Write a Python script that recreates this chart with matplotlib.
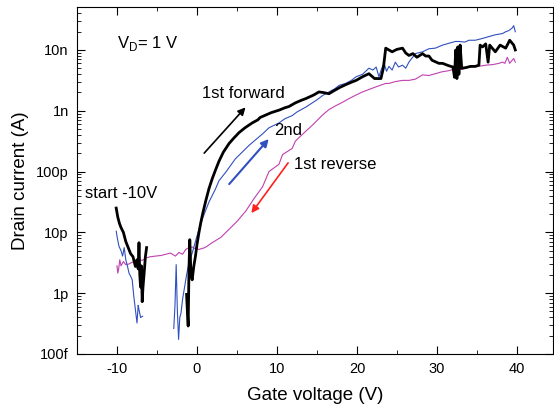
import matplotlib
matplotlib.use("Agg")
import matplotlib.pyplot as plt
import numpy as np
from matplotlib.ticker import FixedLocator, LogLocator, MultipleLocator, NullFormatter

plt.rcParams['font.family'] = ['Liberation Sans', 'DejaVu Sans']
plt.rcParams['mathtext.fontset'] = 'custom'
plt.rcParams['mathtext.rm'] = 'Liberation Sans'
plt.rcParams['axes.unicode_minus'] = False

# 1st forward sweep (gate V, log10 drain current); nan = gap below noise floor
fwd_v = [-10.1, -9.9, -9.7, -9.5, -9.2, -8.9, -8.6, -8.3, -8.0, -7.7, -7.5, -7.35, -7.25,
         -7.15, -7.05, -6.95, -6.85, -6.75, -6.6, -6.45, -6.3, np.nan,
         -1.3, -1.2, -1.1, -1.0, -0.9, -0.75, -0.6, -0.4, -0.2, 0.0, 0.25, 0.46, 0.7, 1.1,
         1.5, 1.9, 2.3, 2.75, 3.3, 4.0, 4.6, 5.25, 6.0, 6.9, 7.6, 7.9, 8.6, 9.3, 10.25,
         11.0, 11.5, 12.3, 13.0, 13.6, 14.6, 15.25, 15.8, 16.5, 17.0, 17.8, 18.6, 19.5,
         19.9, 20.7, 21.5, 22.2, 23.0, 23.3, 23.6, 24.0, 24.4, 25.0, 25.7, 26.1, 26.5,
         27.0, 27.5, 28.2, 28.6, 29.0, 29.4, 30.25, 30.7, 31.5, 32.0, 32.2, 32.35, 32.5,
         32.6, 32.75, 32.9, 33.1, 33.6, 34.2, 34.8, 35.25, 35.4, 35.7, 36.1, 36.4, 36.6,
         37.3, 37.9, 38.6, 39.1, 39.6, 39.8]
fwd_logi = [-10.6, -10.75, -10.85, -10.92, -11.0, -11.15, -11.25, -11.35, -11.4, -11.56,
            -11.45, -11.6, -11.17, -11.7, -11.9, -11.55, -12.14, -11.9, -11.66, -11.4,
            -11.25, np.nan,
            -12.02, -12.3, -12.54, -11.6, -11.12, -11.7, -11.78, -11.56, -11.4, -11.2,
            -11.0, -10.85, -10.7, -10.48, -10.28, -10.12, -9.98, -9.83, -9.68, -9.54,
            -9.45, -9.36, -9.28, -9.2, -9.15, -9.11, -9.07, -9.03, -8.99, -8.95, -8.93,
            -8.87, -8.83, -8.8, -8.74, -8.69, -8.7, -8.72, -8.68, -8.62, -8.57, -8.52,
            -8.5, -8.44, -8.39, -8.47, -8.47, -8.3, -7.97, -8.0, -8.03, -7.99, -7.97,
            -8.05, -8.09, -8.06, -8.12, -8.06, -8.1, -8.1, -8.17, -8.22, -8.22, -8.26,
            -8.28, -8.45, -8.0, -8.47, -7.95, -8.4, -7.92, -8.3, -8.29, -8.27, -8.27,
            -8.25, -7.92, -7.95, -7.9, -8.2, -7.92, -8.03, -7.92, -7.97, -7.84, -7.92, -8.0]

# 2nd sweep
snd_v = [-10.1, -9.95, -9.75, -9.5, -9.3, -9.1, -8.9, -8.7, -8.5, -8.3, -8.1, -7.9, -7.7,
         -7.5, -7.35, -7.25, -7.05, -6.8, np.nan,
         -2.9, -2.75, -2.6, -2.45, -2.3, -2.15, -2.0, -1.8, -1.6, -1.3, -1.0, -0.6, 0.0,
         0.67, 1.5, 2.3, 2.75, 3.6, 4.8, 5.5, 6.5, 7.3, 8.2, 9.0, 10.25, 11.0, 11.9,
         12.5, 13.6, 14.3, 15.0, 15.7, 16.5, 17.2, 17.8, 18.6, 19.3, 19.9, 20.7, 21.5,
         22.0, 22.4, 22.75, 23.1, 23.4, 23.7, 24.0, 24.4, 24.8, 25.2, 25.7, 26.1, 26.5,
         27.3, 28.2, 29.0, 29.8, 30.7, 31.5, 32.3, 32.75, 33.5, 34.0, 34.8, 35.7, 36.5,
         37.3, 38.2, 38.6, 39.0, 39.4, 39.6, 39.8]
snd_logi = [-10.98, -11.1, -11.23, -11.3, -11.39, -11.25, -11.45, -11.55, -11.67, -11.72,
            -11.78, -12.05, -12.27, -12.49, -12.2, -12.27, -12.4, -12.38, np.nan,
            -12.58, -12.2, -11.53, -12.3, -12.76, -12.4, -12.33, -12.1, -11.94, -11.7,
            -11.5, -11.34, -11.06, -10.78, -10.5, -10.29, -10.15, -10.01, -9.79, -9.7,
            -9.57, -9.48, -9.38, -9.28, -9.2, -9.13, -9.08, -9.02, -8.94, -8.88, -8.82,
            -8.75, -8.69, -8.64, -8.58, -8.55, -8.5, -8.44, -8.4, -8.3, -8.33, -8.28,
            -8.44, -8.3, -8.22, -8.35, -8.27, -8.33, -8.2, -8.28, -8.25, -8.3, -8.2,
            -8.06, -8.03, -7.98, -7.97, -7.92, -7.89, -7.86, -7.86, -7.87, -7.84, -7.84,
            -7.81, -7.78, -7.75, -7.73, -7.7, -7.68, -7.64, -7.6, -7.7]

# 1st reverse sweep (40 V back to -10 V)
rev_v = [39.8, 39.6, 39.4, 39.1, 38.8, 38.5, 38.2, 37.75, 37.0, 36.1, 35.2, 34.0, 33.1,
         32.3, 31.5, 30.6, 29.8, 29.0, 28.2, 27.3, 26.5, 25.7, 24.8, 24.0, 23.6, 22.3,
         21.5, 20.7, 19.9, 19.0, 18.2, 17.3, 16.5, 15.7, 14.4, 13.0, 12.3, 11.9, 10.7,
         10.25, 9.0, 8.2, 7.1, 6.1, 5.0, 4.0, 3.0, 1.9, 1.0, 0.25, -0.2, -0.6, -1.0,
         -1.4, -1.8, -2.25, -2.7, -3.3, -3.9, -4.5, -5.2, -5.8, -6.4, -6.8, -7.25, -7.7,
         -8.1, -8.5, -8.9, -9.2, -9.5, -9.65, -9.8, -9.9, -10.0]
rev_logi = [-8.2, -8.14, -8.17, -8.22, -8.12, -8.22, -8.2, -8.22, -8.24, -8.25, -8.27,
            -8.28, -8.32, -8.31, -8.34, -8.36, -8.39, -8.42, -8.41, -8.48, -8.5, -8.5,
            -8.52, -8.55, -8.55, -8.61, -8.65, -8.69, -8.74, -8.8, -8.86, -8.92, -8.98,
            -9.07, -9.24, -9.41, -9.5, -9.62, -9.72, -9.88, -10.0, -10.25, -10.45,
            -10.65, -10.82, -10.95, -11.08, -11.17, -11.25, -11.28, -11.27, -11.24,
            -11.25, -11.28, -11.36, -11.33, -11.39, -11.34, -11.36, -11.38, -11.39,
            -11.4, -11.42, -11.46, -11.45, -11.48, -11.49, -11.52, -11.53, -11.48,
            -11.55, -11.45, -11.61, -11.67, -11.55]

fig = plt.figure(figsize=(5.54, 4.09), dpi=100)
ax = fig.add_axes([0.139, 0.1345, 0.859, 0.8485])

ax.plot(rev_v, 10 ** np.array(rev_logi), color='#c040b0', lw=0.8)
ax.plot(snd_v, 10 ** np.array(snd_logi), color='#3050c0', lw=0.8)
ax.plot(fwd_v, 10 ** np.array(fwd_logi), color='black', lw=2.0)

ax.set_yscale('log')
ax.set_xlim(-15, 44.5)
ax.set_ylim(1e-13, 5.1e-8)

ax.xaxis.set_major_locator(FixedLocator([-10, 0, 10, 20, 30, 40]))
ax.xaxis.set_minor_locator(MultipleLocator(5))
ax.yaxis.set_major_locator(FixedLocator([1e-13, 1e-12, 1e-11, 1e-10, 1e-9, 1e-8]))
ax.set_yticklabels(['100f', '1p', '10p', '100p', '1n', '10n'])
ax.yaxis.set_minor_locator(LogLocator(base=10, subs=np.arange(2, 10)))
ax.yaxis.set_minor_formatter(NullFormatter())
ax.tick_params(which='both', direction='in', top=True, right=True, labelsize=10.5)
ax.tick_params(which='major', length=6)
ax.tick_params(which='minor', length=3)
ax.tick_params(axis='x', pad=6)
ax.tick_params(axis='y', pad=6)

ax.set_xlabel('Gate voltage (V)', fontsize=13.5, labelpad=8)
ax.set_ylabel('Drain current (A)', fontsize=13.5, labelpad=5)

# sweep direction arrows
ax.annotate('', xy=(6.3, 10 ** -8.91), xytext=(0.67, 10 ** -9.73),
            arrowprops=dict(arrowstyle='-|>', color='black', lw=1.2, mutation_scale=11))
ax.annotate('', xy=(9.2, 10 ** -9.43), xytext=(3.8, 10 ** -10.24),
            arrowprops=dict(arrowstyle='-|>', color='#3050c0', lw=1.5, mutation_scale=11))
ax.annotate('', xy=(6.6, 10 ** -10.72), xytext=(11.6, 10 ** -9.82),
            arrowprops=dict(arrowstyle='-|>', color='#ff2020', lw=1.2, mutation_scale=11))

ax.text(0.6, 10 ** -8.72, '1st forward', fontsize=12, va='center')
ax.text(9.6, 10 ** -9.33, '2nd', fontsize=12, va='center')
ax.text(12.1, 10 ** -9.89, '1st reverse', fontsize=12, va='center')
ax.text(-14.0, 10 ** -10.36, 'start -10V', fontsize=12, va='center')
ax.text(-10.0, 10 ** -7.89, 'V$_\\mathrm{D}$= 1 V', fontsize=12, va='center')

fig.savefig('out.png', dpi=100)
